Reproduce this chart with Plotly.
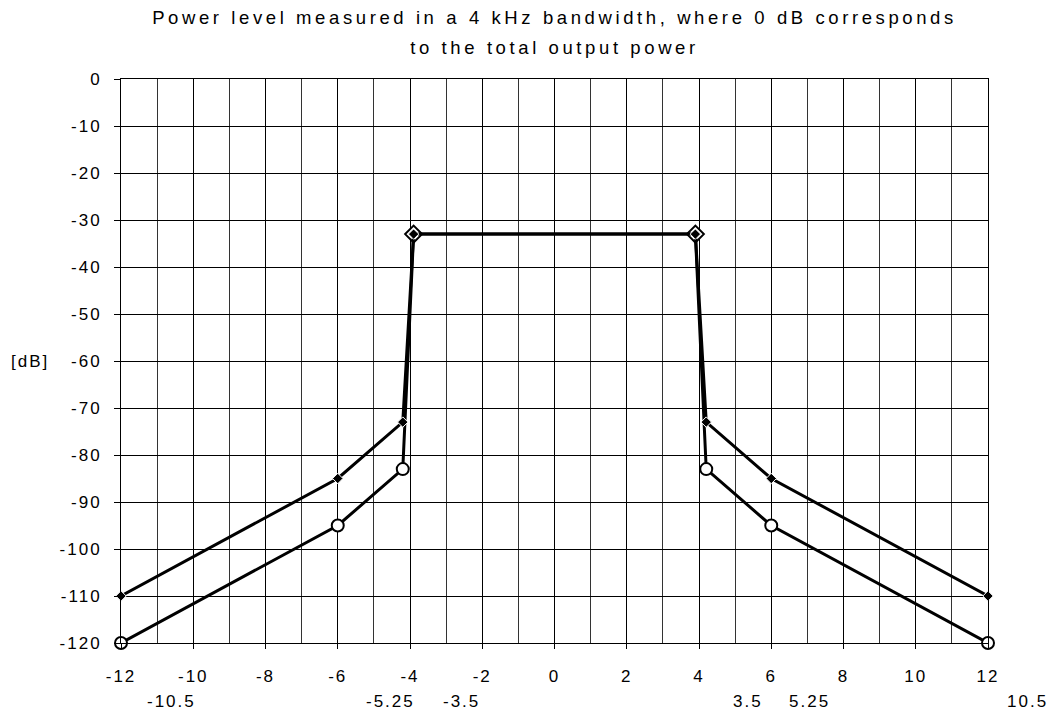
import plotly.graph_objects as go

# ---- data ----
freq = [-12, -6, -4.2, -3.9, 3.9, 4.2, 6, 12]
upper_db = [-110, -85, -73, -33, -33, -73, -85, -110]
lower_db = [-120, -95, -83, -33, -33, -83, -95, -120]
lower_symbols = ["circle", "circle", "circle", "diamond", "diamond", "circle", "circle", "circle"]

x_range = [-12, 12]
x_tick_vals = list(range(-12, 13, 2))
y_tick_vals = list(range(-120, 1, 10))

extra_labels = ["-10.5", "-5.25", "-3.5", "3.5", "5.25", "10.5"]
extra_label_pos = [-10.6, -4.53, -2.57, 5.37, 7.07, 13.08]

title_lines = ["Power level measured in a 4 kHz bandwidth, where 0 dB corresponds",
               "to the total output power"]
y_label = "[dB]"

FONT = "Liberation Sans, Arial, sans-serif"
LS_T = "letter-spacing:3.6px;font-size:18.5px"
LS = "letter-spacing:2px"


def sp(t, style=LS):
    return f'<span style="{style}">{t}</span>'


fig = go.Figure()

fig.add_trace(go.Scatter(
    x=freq, y=lower_db, mode="lines+markers",
    line=dict(color="black", width=3),
    marker=dict(symbol=lower_symbols, size=[12, 12, 12, 13, 13, 12, 12, 12],
                color="#ffffff", opacity=1, line=dict(color="black", width=2)),
    cliponaxis=False, showlegend=False))

fig.add_trace(go.Scatter(
    x=freq, y=upper_db, mode="lines+markers",
    line=dict(color="black", width=3),
    marker=dict(symbol="diamond", size=8, color="black", opacity=1,
                line=dict(color="#ffffff", width=1)),
    cliponaxis=False, showlegend=False))

fig.update_xaxes(
    range=x_range, tickvals=x_tick_vals,
    ticktext=[sp(v) for v in x_tick_vals],
    ticks="outside", ticklen=5, tickcolor="black", tickwidth=1,
    showgrid=True, gridcolor="black", gridwidth=1,
    minor=dict(dtick=1, showgrid=True, gridcolor="#333333", gridwidth=1, ticks=""),
    showline=True, linecolor="black", linewidth=1, mirror=True,
    zeroline=False, ticklabelstandoff=13,
    tickfont=dict(family=FONT, size=17, color="black"))

fig.update_yaxes(
    range=[-120, 0], tickvals=y_tick_vals,
    ticktext=[sp(v) for v in y_tick_vals],
    ticks="outside", ticklen=6, tickcolor="black", tickwidth=1,
    showgrid=True, gridcolor="black", gridwidth=1,
    showline=True, linecolor="black", linewidth=1, mirror=True,
    zeroline=False, ticklabelstandoff=9,
    tickfont=dict(family=FONT, size=17, color="black"))

annotations = []
span = x_range[1] - x_range[0]
for lab, pos in zip(extra_labels, extra_label_pos):
    annotations.append(dict(x=(pos - x_range[0]) / span, xref="paper",
                            y=0, yref="paper", yshift=-58,
                            text=sp(lab), showarrow=False, xanchor="center",
                            yanchor="middle",
                            font=dict(family=FONT, size=17, color="black")))
annotations.append(dict(x=-0.129, xref="paper", y=-60, yref="y",
                        text=sp(y_label), showarrow=False, xanchor="left",
                        yanchor="middle",
                        font=dict(family=FONT, size=17, color="black")))

fig.update_layout(
    width=1052, height=715,
    margin=dict(l=121, r=64, t=79, b=72),
    paper_bgcolor="white", plot_bgcolor="white",
    title=dict(text="<br>".join(sp(t, LS_T) for t in title_lines),
               x=0.5, xref="paper", xanchor="center",
               y=0.966, yref="container", yanchor="top",
               font=dict(family=FONT, size=23, color="black")),
    annotations=annotations,
)

fig.write_html("out.html", config={"displayModeBar": False},
               post_script="document.body.style.margin='0';")
